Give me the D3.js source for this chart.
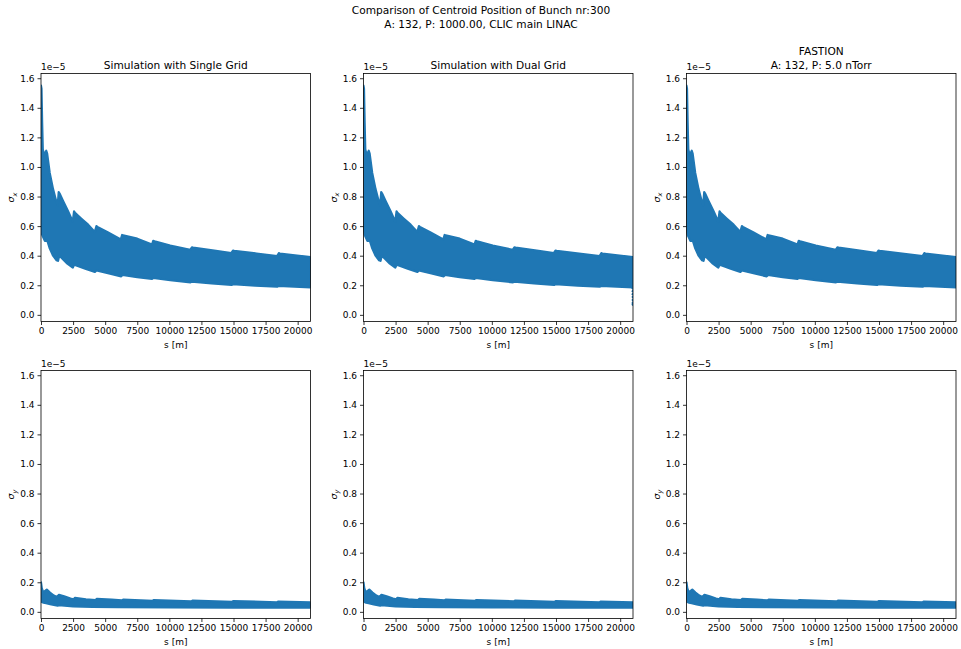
<!DOCTYPE html>
<html>
<head>
<meta charset="utf-8">
<script src="https://cdn.jsdelivr.net/npm/d3@7"></script>
<style>
  body { margin: 0; background: #fff; }
  svg { font-family: "DejaVu Sans", sans-serif; }
</style>
</head>
<body>
<svg id="chart" width="961" height="649"></svg>
<script>
// sigma_x band (units of 1e-5): upper / lower envelope of the scatter cloud, [s, value]
const sigmaXUpper = [[0,1.55],[40,1.53],[90,1.3],[140,1.12],[250,1.08],[410,1.11],[480,1.09],[680,0.96],[940,0.85],
  [1120,0.79],[1250,0.75],[1300,0.74],[1380,0.83],[1450,0.82],[1720,0.77],[2110,0.70],[2475,0.63],[2576,0.70],
  [2650,0.69],[3150,0.65],[3670,0.61],[4190,0.56],[4320,0.60],[4400,0.595],[5230,0.557],[6220,0.51],[6320,0.54],
  [6400,0.537],[7500,0.515],[8650,0.475],[8744,0.50],[8850,0.497],[10070,0.468],[11630,0.44],[11760,0.457],
  [11850,0.455],[13500,0.435],[14830,0.417],[14960,0.435],[15050,0.433],[16800,0.415],[18400,0.397],[18530,0.417],
  [18620,0.415],[21000,0.39]];
const sigmaXLower = [[0,0.56],[150,0.53],[300,0.50],[500,0.50],[680,0.45],[940,0.40],[1200,0.37],[1330,0.365],
  [1420,0.40],[1500,0.395],[2000,0.35],[2480,0.32],[2580,0.34],[2700,0.335],[3500,0.31],[4200,0.29],[4320,0.30],
  [5300,0.28],[6250,0.26],[6350,0.27],[7500,0.255],[8650,0.243],[8750,0.25],[10070,0.234],[11650,0.22],
  [11750,0.225],[13300,0.212],[14850,0.202],[14950,0.207],[16700,0.198],[18400,0.19],[18500,0.195],[21000,0.185]];

// sigma_y band
const sigmaYUpper = [[0,0.20],[60,0.16],[180,0.13],[300,0.14],[450,0.15],[700,0.13],[1000,0.11],[1250,0.10],
  [1400,0.115],[1800,0.105],[2300,0.09],[2550,0.085],[2650,0.095],[3500,0.085],[4250,0.08],[4350,0.088],
  [5500,0.082],[6300,0.077],[6400,0.083],[8700,0.075],[8800,0.08],[11700,0.071],[11800,0.076],[14900,0.068],
  [15000,0.073],[18400,0.065],[18500,0.07],[21000,0.064]];
const sigmaYLower = [[0,0.07],[200,0.062],[400,0.058],[800,0.05],[1300,0.042],[1400,0.046],[2500,0.037],
  [4000,0.034],[6000,0.032],[10000,0.03],[15000,0.029],[21000,0.028]];

// stray points at the end of the dual grid run
const dualTail = [[20995,0.18],[21000,0.16],[21000,0.14],[21000,0.12],[21000,0.10],[21000,0.08],[21000,0.07]];

const colTitles = [["Simulation with Single Grid"], ["Simulation with Dual Grid"], ["FASTION", "A: 132, P: 5.0 nTorr"]];
const supTitle = ["Comparison of Centroid Position of Bunch nr:300", "A: 132, P: 1000.00, CLIC main LINAC"];
const yTicks = [0, 0.2, 0.4, 0.6, 0.8, 1.0, 1.2, 1.4, 1.6];
const xTicks = [0, 2500, 5000, 7500, 10000, 12500, 15000, 17500, 20000];

const svg = d3.select("#chart");
const color = "#1f77b4";
const axLeft = [41, 363.5, 686.5];
const axTop = [73.5, 370.5];
const axW = 269.5, axH = 248;

svg.selectAll("text.sup")
  .data(supTitle)
  .enter()
  .append("text")
  .attr("x", 481)
  .attr("y", (d, i) => 14 + i * 14)
  .attr("text-anchor", "middle")
  .style("font-size", "10.6px")
  .text(d => d);

function panel(col, row) {
  const x = d3.scaleLinear().domain([0, 21000]).range([0, axW]);
  const y = d3.scaleLinear().domain([-0.045, 1.632]).range([axH, 0]);
  const g = svg.append("g").attr("transform", `translate(${axLeft[col]},${axTop[row]})`);

  const upper = row === 0 ? sigmaXUpper : sigmaYUpper;
  const lower = row === 0 ? sigmaXLower : sigmaYLower;
  const poly = upper.concat(lower.slice().reverse());

  g.append("clipPath").attr("id", `clip${col}${row}`)
    .append("rect").attr("width", axW).attr("height", axH);

  const band = g.append("g").attr("clip-path", `url(#clip${col}${row})`);
  band.append("path")
    .datum(poly)
    .attr("d", d3.line().x(d => x(d[0])).y(d => y(d[1])).curve(d3.curveLinearClosed))
    .attr("fill", color)
    .attr("stroke", color)
    .attr("stroke-width", 2.2)
    .attr("stroke-linejoin", "round");

  if (col === 1 && row === 0) {
    band.selectAll("circle")
      .data(dualTail)
      .enter()
      .append("circle")
      .attr("cx", d => x(d[0]))
      .attr("cy", d => y(d[1]))
      .attr("r", 1.4)
      .attr("fill", color);
  }

  const xAxis = g.append("g").attr("transform", `translate(0,${axH})`)
    .call(d3.axisBottom(x).tickValues(xTicks).tickFormat(d3.format("d")).tickSize(3.5).tickPadding(2.5));
  const yAxis = g.append("g")
    .call(d3.axisLeft(y).tickValues(yTicks).tickFormat(d3.format(".1f")).tickSize(3.5).tickPadding(3));
  [xAxis, yAxis].forEach(a => {
    a.select(".domain").remove();
    a.selectAll("text").style("font-size", "9px").attr("fill", "#000").style("font-family", "DejaVu Sans");
    a.selectAll("line").attr("stroke", "#000").attr("stroke-width", 0.8);
  });

  g.append("rect")
    .attr("width", axW).attr("height", axH)
    .attr("fill", "none").attr("stroke", "#000").attr("stroke-width", 0.8);

  g.append("text")
    .attr("x", 0).attr("y", -4)
    .style("font-size", "9px")
    .text("1e\u22125");

  g.append("text")
    .attr("x", axW / 2).attr("y", axH + 26)
    .attr("text-anchor", "middle")
    .style("font-size", "9px")
    .text("s [m]");

  const yl = g.append("text")
    .attr("transform", `translate(-27,${axH / 2}) rotate(-90)`)
    .attr("text-anchor", "middle")
    .style("font-size", "9.5px");
  yl.append("tspan").style("font-style", "italic").text("\u03c3");
  yl.append("tspan").attr("dy", 2.5).style("font-size", "6.5px").style("font-style", "italic").text(row === 0 ? "x" : "y");

  if (row === 0) {
    const lines = colTitles[col];
    g.selectAll("text.title")
      .data(lines)
      .enter()
      .append("text")
      .attr("class", "title")
      .attr("x", axW / 2)
      .attr("y", (d, i) => -5 - (lines.length - 1 - i) * 14)
      .attr("text-anchor", "middle")
      .style("font-size", "10.6px")
      .text(d => d);
  }
}

for (let row = 0; row < 2; row++) {
  for (let col = 0; col < 3; col++) panel(col, row);
}
</script>
</body>
</html>
